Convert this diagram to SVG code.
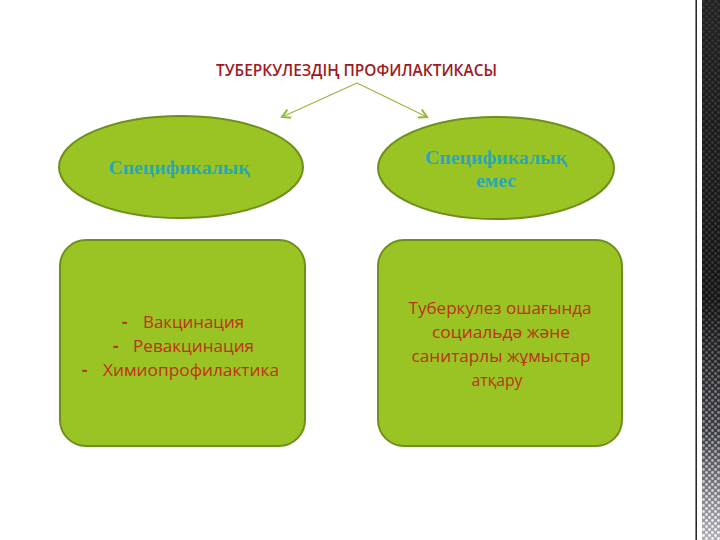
<svg xmlns="http://www.w3.org/2000/svg" width="720" height="540" viewBox="0 0 720 540">
<style>
.shape{fill:#9AC423;stroke:#6F8F1C;stroke-width:2}
.title{font-family:"Open Sans","Liberation Sans",sans-serif;font-weight:600;font-size:17px;fill:#A01A22}
.oval{font-family:"Liberation Serif","DejaVu Serif",serif;font-weight:bold;font-size:19px;fill:#2AA7B6;text-anchor:middle}
.body{font-family:"Open Sans","Liberation Sans",sans-serif;font-size:17px;fill:#BF3014}
.mid{text-anchor:middle}
.conn{stroke:#95B83E;stroke-width:1.2;fill:none}
</style>
<defs>
<marker id="ah" markerWidth="12" markerHeight="12" refX="9" refY="6" orient="auto" markerUnits="userSpaceOnUse">
<path d="M1,1.5 L9,6 L1,10.5" fill="none" stroke="#95B83E" stroke-width="2"/>
</marker>
<linearGradient id="strip" x1="0" y1="0" x2="0" y2="1">
<stop offset="0" stop-color="#222"/>
<stop offset="0.55" stop-color="#151515"/>
<stop offset="0.8" stop-color="#3c3c44"/>
<stop offset="1" stop-color="#b0b0b8"/>
</linearGradient>
<linearGradient id="dotfade" x1="0" y1="0" x2="0" y2="1">
<stop offset="0" stop-color="#fff" stop-opacity="0.1"/>
<stop offset="0.55" stop-color="#fff" stop-opacity="0.15"/>
<stop offset="0.8" stop-color="#fff" stop-opacity="0.45"/>
<stop offset="1" stop-color="#fff" stop-opacity="0.9"/>
</linearGradient>
<pattern id="dots" width="6" height="6" patternUnits="userSpaceOnUse">
<circle cx="1.5" cy="1.5" r="1.4" fill="#fff"/>
<circle cx="4.5" cy="4.5" r="1.4" fill="#fff"/>
</pattern>
<mask id="dm"><rect x="702" y="0" width="18" height="540" fill="url(#dotfade)"/></mask>
</defs>
<rect width="720" height="540" fill="#ffffff"/>
<g id="decor">
<rect x="695.5" y="0" width="1.4" height="540" fill="#111"/>
<rect x="702" y="0" width="18" height="540" fill="url(#strip)"/>
<rect x="702" y="0" width="18" height="540" fill="url(#dots)" mask="url(#dm)"/>
</g>
<g id="title">
<text class="title" x="216" y="76" textLength="281" lengthAdjust="spacingAndGlyphs">ТУБЕРКУЛЕЗДІҢ ПРОФИЛАКТИКАСЫ</text>
</g>
<g id="connectors">
<line class="conn" x1="357" y1="83" x2="282" y2="117" marker-end="url(#ah)"/>
<line class="conn" x1="357" y1="83" x2="427" y2="117" marker-end="url(#ah)"/>
</g>
<g id="specific">
<ellipse class="shape" cx="181" cy="167" rx="122" ry="51"/>
<text class="oval" x="179" y="174" textLength="141" lengthAdjust="spacingAndGlyphs">Спецификалық</text>
</g>
<g id="nonspecific">
<ellipse class="shape" cx="496" cy="168" rx="118" ry="51"/>
<text class="oval" x="496" y="164" textLength="142" lengthAdjust="spacingAndGlyphs">Спецификалық</text>
<text class="oval" x="496" y="187" textLength="40" lengthAdjust="spacingAndGlyphs">емес</text>
</g>
<g id="specific-list">
<rect class="shape" x="60" y="240" width="245" height="206" rx="26" ry="26"/>
<text class="body" x="122" y="328" font-weight="bold">-</text>
<text class="body" x="143" y="328" textLength="101" lengthAdjust="spacingAndGlyphs">Вакцинация</text>
<text class="body" x="113" y="352" font-weight="bold">-</text>
<text class="body" x="133" y="352" textLength="121" lengthAdjust="spacingAndGlyphs">Ревакцинация</text>
<text class="body" x="82" y="376" font-weight="bold">-</text>
<text class="body" x="103" y="376" textLength="176" lengthAdjust="spacingAndGlyphs">Химиопрофилактика</text>
</g>
<g id="nonspecific-text">
<rect class="shape" x="378" y="240" width="244" height="206" rx="26" ry="26"/>
<text class="body mid" x="500" y="314" textLength="183" lengthAdjust="spacingAndGlyphs">Туберкулез ошағында</text>
<text class="body mid" x="501" y="338" textLength="138" lengthAdjust="spacingAndGlyphs">социальдә және</text>
<text class="body mid" x="501" y="362" textLength="179" lengthAdjust="spacingAndGlyphs">санитарлы жұмыстар</text>
<text class="body mid" x="497" y="386" textLength="51" lengthAdjust="spacingAndGlyphs">атқару</text>
</g>
</svg>
